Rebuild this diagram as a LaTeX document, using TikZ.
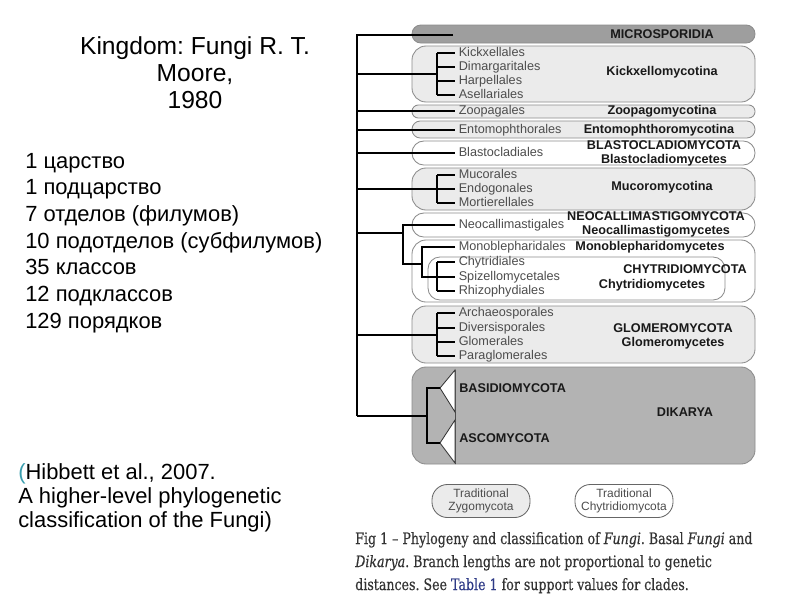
\documentclass[tikz,border=0pt]{standalone}
\usepackage{fontspec}
\setmainfont{Liberation Sans}
\newfontfamily\capfont[FakeStretch=0.8, FakeBold=0.4]{DejaVu Serif}
\usepackage{xcolor}
\usepackage{tikz}
\usetikzlibrary{positioning,calc}
\definecolor{boxgray}{HTML}{8C8C8C}
\definecolor{lightfill}{HTML}{EBEBEB}
\definecolor{microfill}{HTML}{9E9E9E}
\definecolor{dikfill}{HTML}{B3B3B3}
\definecolor{namegray}{HTML}{4D4D4D}
\definecolor{capgray}{HTML}{333333}
\definecolor{tableblue}{HTML}{2E3A87}
\definecolor{parenteal}{HTML}{3A9EAE}
\frenchspacing

\begin{document}
\begin{tikzpicture}[
    x=0.025cm, y=-0.025cm,
    taxon/.style={anchor=west, inner xsep=2.5pt, inner ysep=0pt, text height=6.5pt, text depth=1.5pt, font=\fontsize{9}{10}\selectfont, text=namegray},
    clade/.style={inner sep=0pt, align=center, font=\fontsize{9}{10}\selectfont\bfseries, text=black!90},
    branch/.style={line width=0.8pt, black},
    cladebox/.style={draw=boxgray, line width=0.6pt},
    tri/.style={draw=black!80, fill=white, line width=0.6pt, line join=miter},
    legendpill/.style={draw=black!60, line width=0.6pt, rounded corners=11pt, minimum width=69.7pt, minimum height=23.5pt, inner sep=0pt, align=center, font=\fontsize{8.5}{9.3}\selectfont, text=namegray},
    caption/.style={anchor=base west, inner sep=0pt, font=\capfont\fontsize{11.2}{12}\selectfont, text=capgray},
    bigtxt/.style={inner sep=0pt, font=\fontsize{15.6}{17}\selectfont}
]
\useasboundingbox (0,0) rectangle (800,600);
\fill[white] (0,0) rectangle (800,600);

% left column
\node[inner sep=0pt, anchor=north, align=center, font=\fontsize{17.5}{19.2}\selectfont] (kingdom) at (195,36) {Kingdom: Fungi R. T.\\Moore,\\1980};
\foreach \t [count=\i] in {1 царство, 1 подцарство, 7 отделов (филумов), 10 подотделов (субфилумов), 35 классов, 12 подклассов, 129 порядков}
    \node[bigtxt, anchor=base west] (rank\i) at (25,{168+26.67*(\i-1)}) {\t};
\node[bigtxt, anchor=north west, align=left] (hibbett) at (18,463) {\textcolor{parenteal}{(}Hibbett et al., 2007.\\A higher-level phylogenetic\\classification of the Fungi)};

% clade boxes
\foreach \yt/\yb/\col/\rad in {25/43/microfill/6.3pt, 46/102/lightfill/10pt, 105/118/lightfill/4.5pt, 121/138/lightfill/5.9pt, 141/165/white/8.4pt, 168/210/lightfill/10pt, 213/237/white/8.4pt, 240/302/white/10pt, 306/363/lightfill/10pt, 367/464/dikfill/10pt}
    \draw[cladebox, fill=\col, rounded corners=\rad] (412,\yt) rectangle (755,\yb);
\draw[cladebox, fill=white, rounded corners=8.5pt] (428,257) rectangle (725,300);

% orders
\foreach \n/\y/\t in {kick1/53/Kickxellales, kick2/67/Dimargaritales, kick3/81/Harpellales, kick4/95/Asellariales,
    zoop/111/Zoopagales, ento/130/Entomophthorales, blas/153/Blastocladiales,
    muco1/175/Mucorales, muco2/189/Endogonales, muco3/203/Mortierellales,
    neoc/225/Neocallimastigales, mono/247/Monoblepharidales,
    chyt1/262/Chytridiales, chyt2/277/Spizellomycetales, chyt3/291/Rhizophydiales,
    glom1/313/Archaeosporales, glom2/328/Diversisporales, glom3/342/Glomerales, glom4/356/Paraglomerales}
    \node[taxon] (\n) at (455,\y) {\t};

% clade names
\node[clade] (microlab) at (662,34) {MICROSPORIDIA};
\node[clade] (kicklab) at (662,72) {Kickxellomycotina};
\node[clade] (zooplab) at (662,111) {Zoopagomycotina};
\node[clade] (entolab) at (659,130) {Entomophthoromycotina};
\node[clade] (blaslab) at (664,153) {BLASTOCLADIOMYCOTA\\Blastocladiomycetes};
\node[clade] (mucolab) at (662,187) {Mucoromycotina};
\node[clade] (neolab) at (656,224) {NEOCALLIMASTIGOMYCOTA\\Neocallimastigomycetes};
\node[clade] (monolab) at (650,247) {Monoblepharidomycetes};
\node[clade] (chytlab) at (685,269) {CHYTRIDIOMYCOTA};
\node[clade] (chytclab) at (652,285) {Chytridiomycetes};
\node[clade] (glomlab) at (673,336) {GLOMEROMYCOTA\\Glomeromycetes};
\node[clade, anchor=west] (basilab) at (459,388) {BASIDIOMYCOTA};
\node[clade, anchor=west] (ascolab) at (459,438) {ASCOMYCOTA};
\node[clade] (diklab) at (685,412) {DIKARYA};

% tree
\coordinate (rtop) at (357,35);
\coordinate (rbot) at (357,416);
\coordinate (micend) at (453,35);
\coordinate (brk) at (437,0);
\draw[branch] (micend) -- (rtop) -- (rbot);

\draw[branch] (rtop |- 0,74) -- (brk |- 0,74);
\draw[branch] (brk |- kick1.west) -- (brk |- kick4.west);
\foreach \n in {kick1,kick2,kick3,kick4}
    \draw[branch] (brk |- \n.west) -- (\n.west);

\foreach \n in {zoop,ento,blas}
    \draw[branch] (rtop |- \n.west) -- (\n.west);

\draw[branch] (rtop |- muco2.west) -- (muco2.west);
\draw[branch] (brk |- muco1.west) -- (brk |- muco3.west);
\foreach \n in {muco1,muco3}
    \draw[branch] (brk |- \n.west) -- (\n.west);

\coordinate (fork1) at (403,233);
\coordinate (fork1b) at (403,264);
\coordinate (fork2) at (422,264);
\coordinate (fork2b) at (422,277);
\draw[branch] (rtop |- fork1) -- (fork1);
\draw[branch] (neoc.west) -| (fork1b) -- (fork2);
\draw[branch] (mono.west) -| (fork2b) -- (brk |- fork2b);
\draw[branch] (brk |- chyt1.west) -- (brk |- chyt3.west);
\foreach \n in {chyt1,chyt2,chyt3}
    \draw[branch] (brk |- \n.west) -- (\n.west);

\coordinate (glomj) at (437,335);
\draw[branch] (rtop |- glomj) -- (glomj);
\draw[branch] (brk |- glom1.west) -- (brk |- glom4.west);
\foreach \n in {glom1,glom2,glom3,glom4}
    \draw[branch] (brk |- \n.west) -- (\n.west);

% dikarya
\coordinate (dikj) at (427,416);
\coordinate (basit) at (440,388);
\coordinate (ascot) at (440,443);
\draw[black!70, line width=0.6pt] (455,370) -- (455,464);
\draw[tri] (basit) -- (455,370) -- (455,412) -- cycle;
\draw[tri] (ascot) -- (455,420) -- (455,463) -- cycle;
\draw[branch] (rbot) -- (dikj);
\draw[branch] (basit) -| (dikj) |- (ascot);

% legend
\node[legendpill, fill=lightfill] (zygoleg) at (481,501) {Traditional\\Zygomycota};
\node[legendpill, fill=white] (chytleg) at (624,501) {Traditional\\Chytridiomycota};

% caption
\node[caption] (cap1) at (355,544) {Fig 1 – Phylogeny and classification of \textit{Fungi}. Basal \textit{Fungi} and};
\node[caption] (cap2) at (355,567) {\textit{Dikarya}. Branch lengths are not proportional to genetic};
\node[caption] (cap3) at (355,590) {distances. See \textcolor{tableblue}{Table 1} for support values for clades.};
\end{tikzpicture}
\end{document}
